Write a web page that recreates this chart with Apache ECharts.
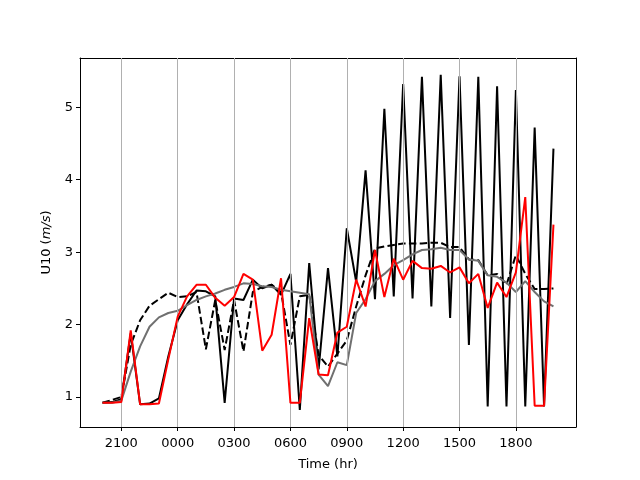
<!DOCTYPE html>
<html>
<head>
<meta charset="utf-8">
<script src="https://cdn.jsdelivr.net/npm/echarts@6/dist/echarts.min.js"></script>
<style>
  html, body { margin: 0; padding: 0; background: #fff; }
  #chart { width: 640px; height: 480px; }
</style>
</head>
<body>
<div id="chart"></div>
<script>
// hours after 2100 of the first day, one point every half hour
var hours = [-1, -0.5, 0, 0.5, 1, 1.5, 2, 2.5, 3, 3.5, 4, 4.5, 5, 5.5, 6, 6.5, 7, 7.5, 8, 8.5,
  9, 9.5, 10, 10.5, 11, 11.5, 12, 12.5, 13, 13.5, 14, 14.5, 15, 15.5, 16, 16.5, 17, 17.5, 18, 18.5,
  19, 19.5, 20, 20.5, 21, 21.5, 22, 22.5, 23];

var tickHours = [0, 3, 6, 9, 12, 15, 18, 21];
var tickLabels = ['2100', '0000', '0300', '0600', '0900', '1200', '1500', '1800'];
var yTicks = [1, 2, 3, 4, 5];

var blackSolid = [0.92, 0.93, 0.97, 1.88, 0.90, 0.91, 0.98, 1.56, 2.06, 2.28,
  2.47, 2.46, 2.39, 0.92, 2.36, 2.34, 2.62, 2.50, 2.55, 2.41,
  2.70, 0.82, 2.85, 1.38, 2.78, 1.56, 3.33, 2.59, 4.13, 2.35,
  4.98, 2.39, 5.32, 2.36, 5.42, 2.25, 5.45, 2.09, 5.43, 1.72,
  5.42, 0.87, 5.29, 0.87, 5.24, 0.87, 4.72, 0.87, 4.43];

var blackDashed = [0.92, 0.96, 1.00, 1.72, 2.06, 2.26, 2.35, 2.44, 2.38, 2.39,
  2.45, 1.66, 2.34, 1.65, 2.34, 1.63, 2.45, 2.52, 2.55, 2.45,
  1.72, 2.39, 2.41, 1.58, 1.42, 1.60, 1.78, 2.25, 2.68, 3.05,
  3.08, 3.10, 3.12, 3.12, 3.12, 3.13, 3.13, 3.07, 3.07, 2.90,
  2.89, 2.68, 2.70, 2.55, 2.96, 2.70, 2.49, 2.49, 2.50];

var greyLine = [0.92, 0.92, 0.95, 1.35, 1.70, 1.97, 2.10, 2.16, 2.19, 2.27,
  2.34, 2.39, 2.43, 2.48, 2.52, 2.57, 2.56, 2.53, 2.52, 2.48,
  2.46, 2.44, 2.42, 1.31, 1.15, 1.48, 1.44, 2.16, 2.35, 2.60,
  2.70, 2.82, 2.89, 2.97, 3.03, 3.04, 3.06, 3.03, 3.03, 2.90,
  2.88, 2.68, 2.66, 2.58, 2.45, 2.60, 2.45, 2.32, 2.25];

var redLine = [0.92, 0.92, 0.93, 1.92, 0.90, 0.90, 0.91, 1.52, 2.11, 2.39,
  2.55, 2.55, 2.37, 2.26, 2.38, 2.70, 2.62, 1.64, 1.86, 2.64,
  0.92, 0.92, 2.09, 1.31, 1.30, 1.89, 1.97, 2.62, 2.25, 3.03,
  2.38, 2.91, 2.62, 2.88, 2.78, 2.77, 2.81, 2.72, 2.79, 2.57,
  2.70, 2.23, 2.58, 2.38, 2.72, 3.76, 0.88, 0.88, 3.38];

function pairs(vals) {
  return hours.map(function (h, i) { return [h, vals[i]]; });
}

var font = 'DejaVu Sans';
var myChart = echarts.init(document.getElementById('chart'), null, { renderer: 'canvas' });

// plain axes on top / right, only to close the frame
var frameX = {
  type: 'value', position: 'top', min: -2.2, max: 24.2,
  axisLine: { show: true, onZero: false, lineStyle: { color: '#000', width: 1 } },
  axisTick: { show: false }, axisLabel: { show: false }, splitLine: { show: false }
};
var frameY = {
  type: 'value', position: 'right', min: 0.586, max: 5.681,
  axisLine: { show: true, onZero: false, lineStyle: { color: '#000', width: 1 } },
  axisTick: { show: false }, axisLabel: { show: false }, splitLine: { show: false }
};

var option = {
  animation: false,
  backgroundColor: '#fff',
  textStyle: { fontFamily: font },
  grid: { left: 80, right: 64, top: 58, bottom: 53 },
  xAxis: [{
    type: 'value',
    min: -2.2,
    max: 24.2,
    name: 'Time (hr)',
    nameLocation: 'middle',
    nameGap: 31,
    nameTextStyle: { fontFamily: font, fontSize: 13, color: '#000' },
    axisLine: { show: true, onZero: false, lineStyle: { color: '#000', width: 1 } },
    axisTick: { show: true, inside: false, length: 4, customValues: tickHours, lineStyle: { color: '#000' } },
    axisLabel: {
      customValues: tickHours,
      margin: 10,
      fontFamily: font, fontSize: 13, color: '#000',
      formatter: function (v) {
        var k = tickHours.indexOf(v);
        return k >= 0 ? tickLabels[k] : '';
      }
    },
    splitLine: { show: false }
  }, frameX],
  yAxis: [{
    type: 'value',
    min: 0.586,
    max: 5.681,
    name: 'U10 ({i|m/s})',
    nameLocation: 'middle',
    nameGap: 27,
    nameRotate: 90,
    nameTextStyle: {
      fontFamily: font, fontSize: 13, color: '#000',
      rich: { i: { fontFamily: font, fontSize: 13, fontStyle: 'italic', color: '#000' } }
    },
    axisLine: { show: true, onZero: false, lineStyle: { color: '#000', width: 1 } },
    axisTick: { show: true, inside: false, length: 4, customValues: yTicks, lineStyle: { color: '#000' } },
    axisLabel: { customValues: yTicks, margin: 7, fontFamily: font, fontSize: 13, color: '#000' },
    splitLine: { show: false }
  }, frameY],
  series: [
    {
      // vertical grid lines at the labelled hours
      type: 'line',
      data: [],
      z: 1,
      silent: true,
      markLine: {
        silent: true,
        symbol: ['none', 'none'],
        label: { show: false },
        lineStyle: { color: '#b0b0b0', width: 1, type: 'solid' },
        data: tickHours.map(function (h) { return { xAxis: h }; })
      }
    },
    {
      type: 'line', data: pairs(blackSolid), showSymbol: false, z: 2,
      lineStyle: { color: '#000', width: 2 }
    },
    {
      type: 'line', data: pairs(blackDashed), showSymbol: false, z: 3,
      lineStyle: { color: '#000', width: 2, type: [7.5, 3.3] }
    },
    {
      type: 'line', data: pairs(greyLine), showSymbol: false, z: 4,
      lineStyle: { color: '#707070', width: 2 }
    },
    {
      type: 'line', data: pairs(redLine), showSymbol: false, z: 5,
      lineStyle: { color: '#ff0000', width: 2 }
    }
  ]
};
myChart.setOption(option);
</script>
</body>
</html>
